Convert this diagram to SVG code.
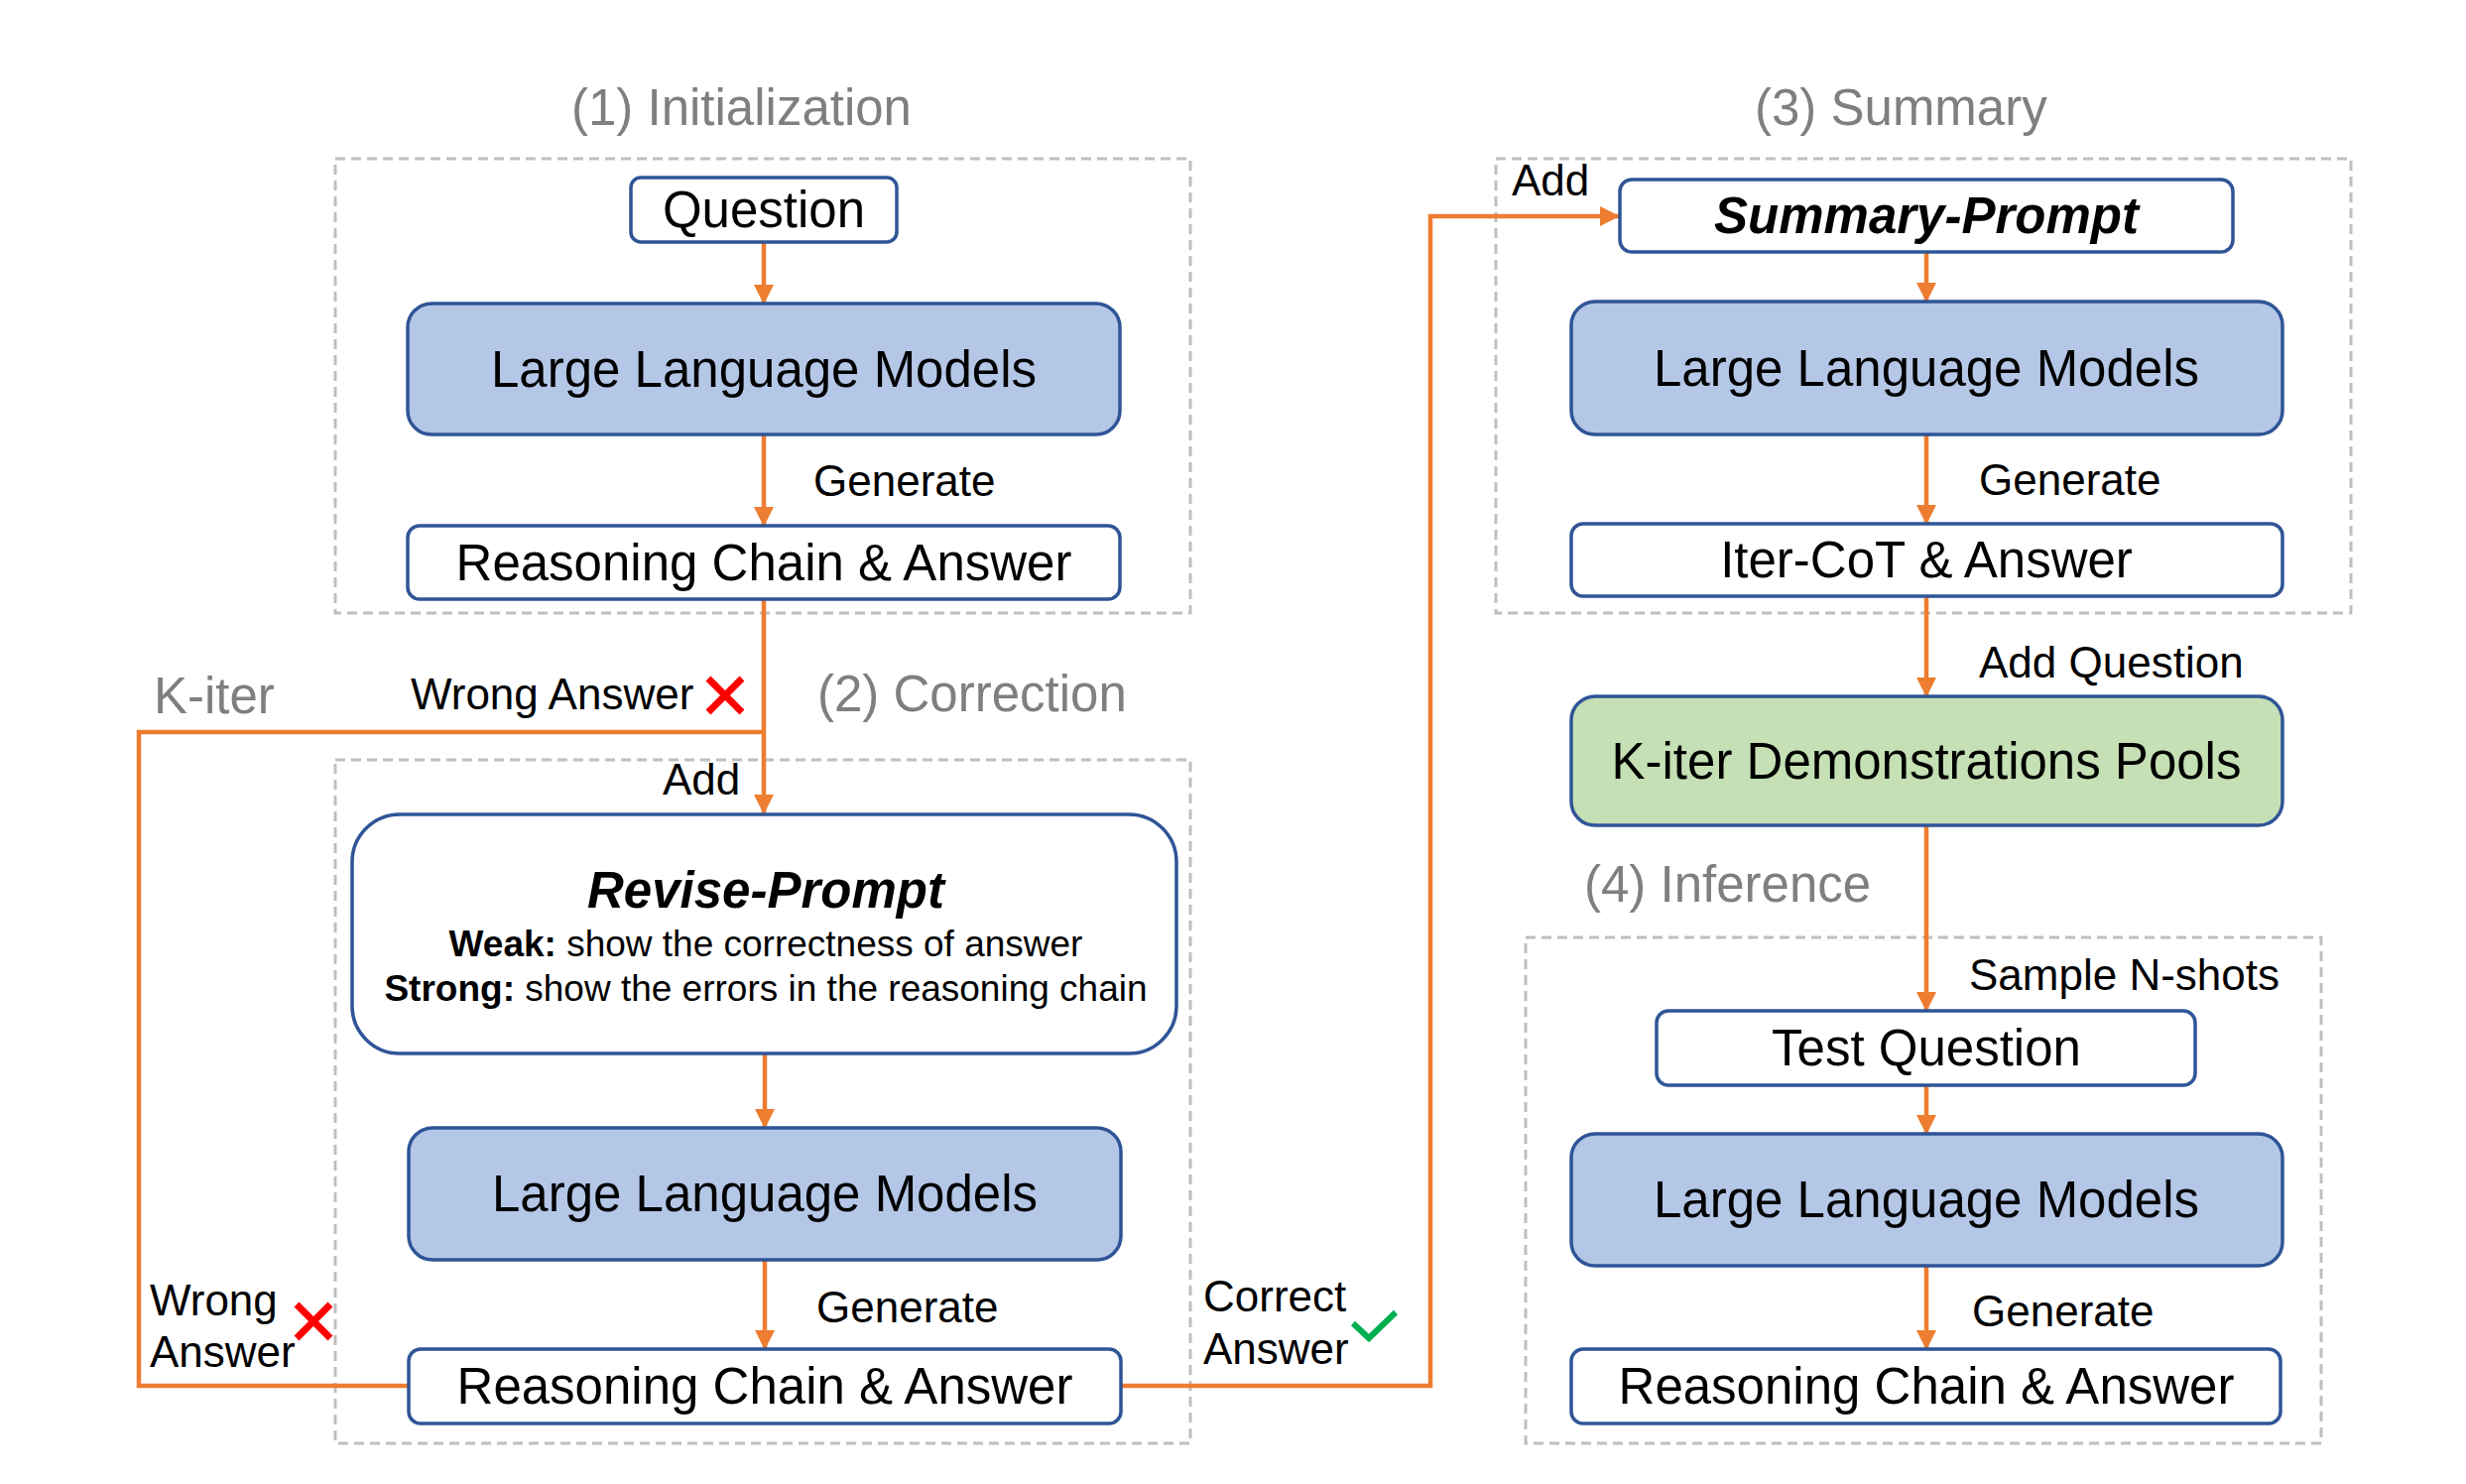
<svg xmlns="http://www.w3.org/2000/svg" width="2486" height="1496" viewBox="0 0 2486 1496">
<style>
text{font-family:"Liberation Sans",Arial,sans-serif;fill:#000}
.title{font-size:51px;fill:#7F7F7F}
.node{font-size:51px}
.lbl{font-size:44px}
.small{font-size:37px}
.box{fill:#fff;stroke:#2F5597;stroke-width:3.5}
.llm{fill:#B4C7E7;stroke:#2F5597;stroke-width:3.5}
.pool{fill:#C5E0B4;stroke:#2F5597;stroke-width:3.5}
.stage{fill:none;stroke:#BFBFBF;stroke-width:3;stroke-dasharray:10 6}
.c{fill:none;stroke:#ED7D31;stroke-width:4.5}
.arr{marker-end:url(#ah)}
.x{stroke:#FF0000;stroke-width:7;fill:none}
.ok{stroke:#00B050;stroke-width:6;fill:none}
</style>
<defs>
<marker id="ah" markerUnits="userSpaceOnUse" markerWidth="20" markerHeight="20" refX="19" refY="10" orient="auto">
<path d="M0,0 L20,10 L0,20 z" fill="#ED7D31"/>
</marker>
</defs>
<rect width="2486" height="1496" fill="#fff"/>

<g id="stages">
<rect class="stage" x="338" y="160" width="862" height="458"/>
<rect class="stage" x="338" y="766" width="862" height="689"/>
<rect class="stage" x="1508" y="160" width="862" height="458"/>
<rect class="stage" x="1538" y="945" width="802" height="510"/>
<text class="title" x="576" y="126">(1) Initialization</text>
<text class="title" x="824" y="717">(2) Correction</text>
<text class="title" x="1769" y="126">(3) Summary</text>
<text class="title" x="1597" y="909">(4) Inference</text>
<text class="title" x="155" y="719">K-iter</text>
</g>

<g id="connectors">
<path class="c arr" d="M770,244 V306"/>
<path class="c arr" d="M770,438 V530"/>
<path class="c arr" d="M770,604 V820"/>
<path class="c" d="M770,738 H140 V1397 H412"/>
<path class="c arr" d="M771,1062 V1137"/>
<path class="c arr" d="M771,1270 V1360"/>
<path class="c arr" d="M1130,1397 H1442 V218 H1632"/>
<path class="c arr" d="M1942,254 V304"/>
<path class="c arr" d="M1942,438 V528"/>
<path class="c arr" d="M1942,601 V702"/>
<path class="c arr" d="M1942,832 V1019"/>
<path class="c arr" d="M1942,1094 V1143"/>
<path class="c arr" d="M1942,1276 V1360"/>
<text class="lbl" x="820" y="500">Generate</text>
<text class="lbl" x="823" y="1333">Generate</text>
<text class="lbl" x="1995" y="499">Generate</text>
<text class="lbl" x="1988" y="1337">Generate</text>
<text class="lbl" x="1995" y="683">Add Question</text>
<text class="lbl" x="1985" y="998">Sample N-shots</text>
<text class="lbl" x="668" y="801">Add</text>
<text class="lbl" x="1524" y="197">Add</text>
<text class="lbl" x="414" y="715">Wrong Answer</text>
<path class="x" d="M714,684 L748,718 M748,684 L714,718"/>
<text class="lbl" x="151" y="1326">Wrong</text>
<text class="lbl" x="151" y="1378">Answer</text>
<path class="x" d="M299,1315 L333,1349 M333,1315 L299,1349"/>
<text class="lbl" x="1213" y="1322">Correct</text>
<text class="lbl" x="1213" y="1375">Answer</text>
<path class="ok" d="M1364,1334 L1380,1349 L1407,1323"/>
</g>

<g id="question">
<rect class="box" x="636" y="179" width="268" height="65" rx="10"/>
<text class="node" x="770" y="229" text-anchor="middle">Question</text>
</g>
<g id="llm1">
<rect class="llm" x="411" y="306" width="718" height="132" rx="24"/>
<text class="node" x="770" y="390" text-anchor="middle">Large Language Models</text>
</g>
<g id="rca1">
<rect class="box" x="411" y="530" width="718" height="74" rx="12"/>
<text class="node" x="770" y="585" text-anchor="middle">Reasoning Chain &amp; Answer</text>
</g>
<g id="revise-prompt">
<rect class="box" x="355" y="821" width="831" height="241" rx="48"/>
<text class="node" x="772" y="915" text-anchor="middle" font-weight="bold" font-style="italic">Revise-Prompt</text>
<text class="small" x="772" y="964" text-anchor="middle"><tspan font-weight="bold">Weak:</tspan> show the correctness of answer</text>
<text class="small" x="772" y="1009" text-anchor="middle"><tspan font-weight="bold">Strong:</tspan> show the errors in the reasoning chain</text>
</g>
<g id="llm2">
<rect class="llm" x="412" y="1137" width="718" height="133" rx="24"/>
<text class="node" x="771" y="1221" text-anchor="middle">Large Language Models</text>
</g>
<g id="rca2">
<rect class="box" x="412" y="1360" width="718" height="75" rx="12"/>
<text class="node" x="771" y="1415" text-anchor="middle">Reasoning Chain &amp; Answer</text>
</g>
<g id="summary-prompt">
<rect class="box" x="1633" y="181" width="618" height="73" rx="12"/>
<text class="node" x="1942" y="235" text-anchor="middle" font-weight="bold" font-style="italic">Summary-Prompt</text>
</g>
<g id="llm3">
<rect class="llm" x="1584" y="304" width="717" height="134" rx="24"/>
<text class="node" x="1942" y="389" text-anchor="middle">Large Language Models</text>
</g>
<g id="itercot">
<rect class="box" x="1584" y="528" width="717" height="73" rx="12"/>
<text class="node" x="1942" y="582" text-anchor="middle">Iter-CoT &amp; Answer</text>
</g>
<g id="pools">
<rect class="pool" x="1584" y="702" width="717" height="130" rx="24"/>
<text class="node" x="1942" y="785" text-anchor="middle">K-iter Demonstrations Pools</text>
</g>
<g id="test-question">
<rect class="box" x="1670" y="1019" width="543" height="75" rx="12"/>
<text class="node" x="1942" y="1074" text-anchor="middle">Test Question</text>
</g>
<g id="llm4">
<rect class="llm" x="1584" y="1143" width="717" height="133" rx="24"/>
<text class="node" x="1942" y="1227" text-anchor="middle">Large Language Models</text>
</g>
<g id="rca4">
<rect class="box" x="1584" y="1360" width="715" height="75" rx="12"/>
<text class="node" x="1942" y="1415" text-anchor="middle">Reasoning Chain &amp; Answer</text>
</g>
</svg>
